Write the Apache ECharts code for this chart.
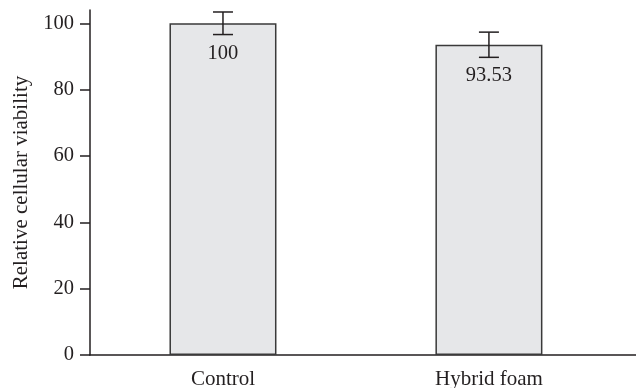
<!DOCTYPE html>
<html>
<head>
<meta charset="utf-8">
<script src="https://cdn.jsdelivr.net/npm/echarts@6/dist/echarts.min.js"></script>
<style>
  html, body { margin: 0; padding: 0; background: #fff; }
  #chart { width: 636px; height: 388px; }
</style>
</head>
<body>
<div id="chart"></div>
<script>
// Cell viability data
const categories = ['Control', 'Hybrid foam'];
const viability = [100, 93.53];
const errors = [3.4, 3.8];
const yTicks = [0, 20, 40, 60, 80, 100];

const ink = '#231f20';
const font = 'Liberation Serif';

const barData = categories.map((c, i) => [i, viability[i]]);
const errData = categories.map((c, i) => [i, viability[i] - errors[i], viability[i] + errors[i]]);

const chart = echarts.init(document.getElementById('chart'));
chart.setOption({
  animation: false,
  grid: { left: 90, right: 0, top: 10, bottom: 33, outerBoundsMode: 'none' },
  xAxis: {
    type: 'value',
    min: -0.5,
    max: 1.553,
    splitLine: { show: false },
    axisLine: { onZero: false, lineStyle: { color: ink, width: 1.5 } },
    axisTick: { show: false },
    axisLabel: {
      customValues: [0, 1],
      formatter: v => categories[Math.round(v)],
      color: ink, fontFamily: font, fontSize: 21, margin: 14
    }
  },
  yAxis: {
    type: 'value',
    min: 0,
    max: 104,
    name: 'Relative cellular viability',
    nameLocation: 'middle',
    nameGap: 58,
    nameTextStyle: { color: ink, fontFamily: font, fontSize: 21 },
    splitLine: { show: false },
    axisLine: { show: true, onZero: false, lineStyle: { color: ink, width: 1.5 } },
    axisTick: { show: true, length: 10, customValues: yTicks, lineStyle: { color: ink, width: 1.5 } },
    axisLabel: { customValues: yTicks, color: ink, fontFamily: font, fontSize: 20.5, margin: 16 }
  },
  series: [
    {
      type: 'bar',
      data: barData,
      barWidth: 107,
      itemStyle: { color: '#e6e7e9', borderColor: '#3a3a3a', borderWidth: 1.5 },
      label: {
        show: true,
        position: 'insideTop',
        distance: 20,
        formatter: p => String(p.value[1]),
        color: ink, fontFamily: font, fontSize: 20.5
      }
    },
    {
      type: 'custom',
      data: errData,
      z: 10,
      renderItem: (params, api) => {
        const x = api.value(0);
        const lo = api.coord([x, api.value(1)]);
        const hi = api.coord([x, api.value(2)]);
        const hw = 10;
        const style = { stroke: ink, lineWidth: 1.5, fill: null };
        return {
          type: 'group',
          children: [
            { type: 'line', shape: { x1: lo[0], y1: lo[1], x2: hi[0], y2: hi[1] }, style },
            { type: 'line', shape: { x1: hi[0] - hw, y1: hi[1], x2: hi[0] + hw, y2: hi[1] }, style },
            { type: 'line', shape: { x1: lo[0] - hw, y1: lo[1], x2: lo[0] + hw, y2: lo[1] }, style }
          ]
        };
      }
    }
  ]
});
</script>
</body>
</html>
